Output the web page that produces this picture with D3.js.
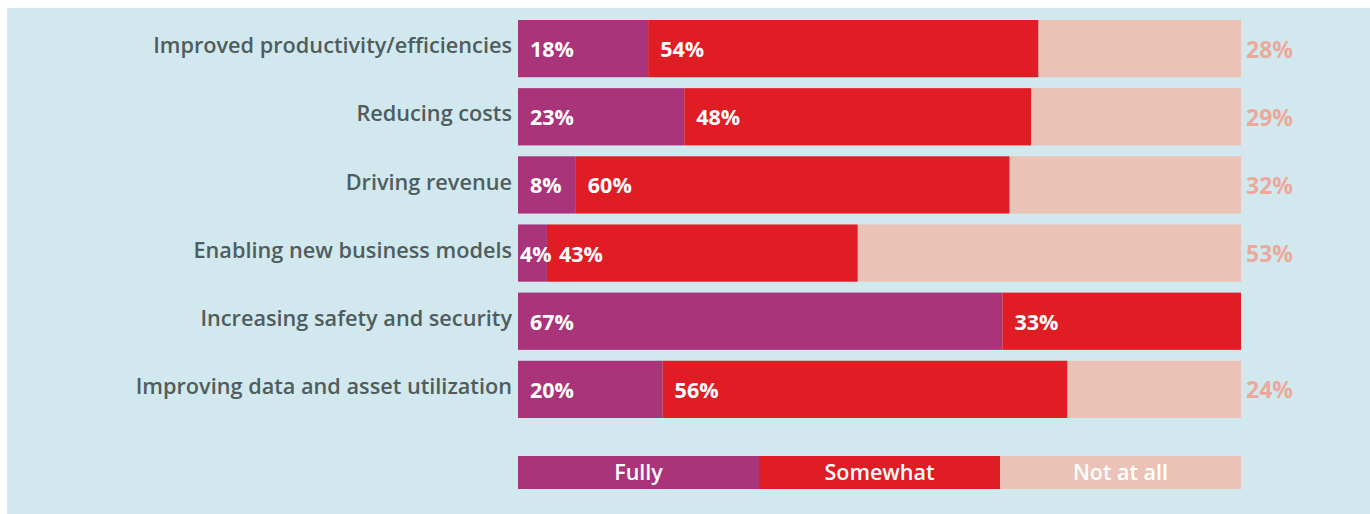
<!DOCTYPE html>
<html>
<head>
<meta charset="utf-8">
<script src="https://cdn.jsdelivr.net/npm/d3@7"></script>
<style>
  body { margin: 0; background: #fff; }
  svg { display: block; }
</style>
</head>
<body>
<div id="chart"></div>
<script>
const categories = [
    "Improved productivity/efficiencies",
    "Reducing costs",
    "Driving revenue",
    "Enabling new business models",
    "Increasing safety and security",
    "Improving data and asset utilization"
];
const fully = [18, 23, 8, 4, 67, 20];
const somewhat = [54, 48, 60, 43, 33, 56];
const notAtAll = [28, 29, 32, 53, 0, 24];
const seriesNames = ["Fully", "Somewhat", "Not at all"];

const colors = ["#a9347a", "#e01c25", "#ebc2b6"];
const W = 1370, H = 514;

const rows = categories.map((c, i) => ({
    category: c,
    "Fully": fully[i],
    "Somewhat": somewhat[i],
    "Not at all": notAtAll[i]
}));

const svg = d3.select("#chart")
    .append("svg")
    .attr("width", W)
    .attr("height", H);

// panneau de fond
svg.append("rect")
    .attr("x", 7).attr("y", 8)
    .attr("width", W - 7).attr("height", H - 8)
    .attr("fill", "#d1e9ee");

const x = d3.scaleLinear()
    .domain([0, 100])
    .range([518, 1241]);

const y = d3.scaleBand()
    .domain(categories)
    .range([20, 418])
    .paddingInner(0.16)
    .paddingOuter(0);

const color = d3.scaleOrdinal()
    .domain(seriesNames)
    .range(colors);

const stacked = d3.stack().keys(seriesNames)(rows);

const layer = svg.selectAll(".layer")
    .data(stacked)
    .enter()
    .append("g")
    .attr("class", "layer")
    .attr("fill", d => color(d.key));

layer.selectAll("rect")
    .data(d => d)
    .enter()
    .append("rect")
    .attr("x", d => x(d[0]))
    .attr("y", d => y(d.data.category))
    .attr("width", d => x(d[1]) - x(d[0]))
    .attr("height", y.bandwidth());

// étiquettes des catégories
svg.append("g")
    .selectAll("text")
    .data(categories)
    .enter()
    .append("text")
    .attr("x", 512)
    .attr("y", d => y(d) + y.bandwidth() / 2 - 3)
    .attr("dy", "0.35em")
    .attr("text-anchor", "end")
    .style("font-family", "'Open Sans', sans-serif")
    .style("font-weight", 600)
    .style("font-size", "21.7px")
    .style("fill", "#505c5d")
    .text(d => d);

// valeurs dans les barres (Fully, Somewhat)
stacked.slice(0, 2).forEach(s => {
    svg.append("g")
        .selectAll("text")
        .data(s.filter(d => d[1] - d[0] > 0))
        .enter()
        .append("text")
        .attr("x", d => x(d[0]) + (x(d[1]) - x(d[0]) < 45 ? 2 : 12))
        .attr("y", d => y(d.data.category) + y.bandwidth() / 2 + 1)
        .attr("dy", "0.35em")
        .style("font-family", "'Open Sans', sans-serif")
        .style("font-weight", 700)
        .style("font-size", "21.5px")
        .style("fill", "#ffffff")
        .text(d => (d[1] - d[0]) + "%");
});

// valeurs à droite (Not at all)
svg.append("g")
    .selectAll("text")
    .data(stacked[2].filter(d => d[1] - d[0] > 0))
    .enter()
    .append("text")
    .attr("x", x(100) + 5)
    .attr("y", d => y(d.data.category) + y.bandwidth() / 2 + 1)
    .attr("dy", "0.35em")
    .style("font-family", "'Open Sans', sans-serif")
    .style("font-weight", 700)
    .style("font-size", "23px")
    .style("fill", "#eca99b")
    .text(d => (d[1] - d[0]) + "%");

// légende
const lx = d3.scaleBand()
    .domain(seriesNames)
    .range([518, 1241]);

const legend = svg.append("g")
    .attr("transform", "translate(0,456)");

legend.selectAll("rect")
    .data(seriesNames)
    .enter()
    .append("rect")
    .attr("x", d => lx(d))
    .attr("y", 0)
    .attr("width", lx.bandwidth())
    .attr("height", 33)
    .attr("fill", d => color(d));

legend.selectAll("text")
    .data(seriesNames)
    .enter()
    .append("text")
    .attr("x", d => lx(d) + lx.bandwidth() / 2)
    .attr("y", 16)
    .attr("dy", "0.35em")
    .attr("text-anchor", "middle")
    .style("font-family", "'Open Sans', sans-serif")
    .style("font-weight", 600)
    .style("font-size", "21.5px")
    .style("fill", "#ffffff")
    .text(d => d);
</script>
</body>
</html>
